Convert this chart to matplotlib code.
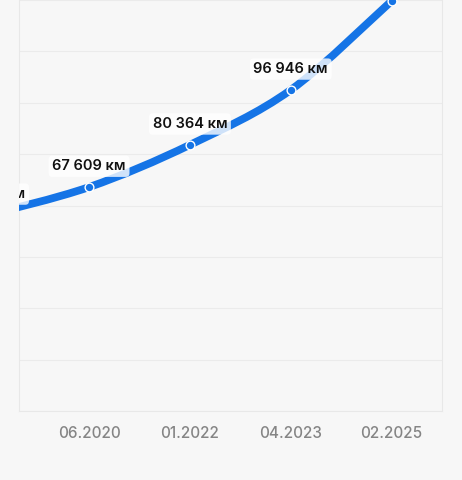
import matplotlib
matplotlib.use("Agg")
import matplotlib.pyplot as plt
from matplotlib.path import Path
from matplotlib.patches import PathPatch

# Odometer readings (km); the first point sits just off the left edge,
# the last one at the top edge of the visible area
dates = ["", "06.2020", "01.2022", "04.2023", "02.2025"]
positions = [-1, 0, 1, 2, 3]
mileage = [59200, 67609, 80364, 96946, 123800]
labels = ["59 200 км", "67 609 км", "80 364 км", "96 946 км", "123 800 км"]

y_max = 124100
blue = "#1574e6"
bg = "#f7f7f7"

plt.rcParams["font.family"] = ["Inter", "DejaVu Sans"]

fig = plt.figure(figsize=(4.62, 4.80), dpi=100, facecolor=bg)
ax = fig.add_axes([19 / 462, 69 / 480, 423 / 462, 411 / 480])
ax.set_facecolor(bg)

# smooth curve through the points (Catmull-Rom as cubic Beziers)
pts = list(zip(positions, mileage))
verts = [pts[0]]
codes = [Path.MOVETO]
for i in range(len(pts) - 1):
    p0 = pts[i - 1] if i > 0 else pts[i]
    p1 = pts[i]
    p2 = pts[i + 1]
    p3 = pts[i + 2] if i + 2 < len(pts) else pts[i + 1]
    c1 = (p1[0] + (p2[0] - p0[0]) / 6, p1[1] + (p2[1] - p0[1]) / 6)
    c2 = (p2[0] - (p3[0] - p1[0]) / 6, p2[1] - (p3[1] - p1[1]) / 6)
    verts += [c1, c2, p2]
    codes += [Path.CURVE4] * 3
ax.add_patch(PathPatch(Path(verts, codes), facecolor="none", edgecolor=blue,
                       lw=5.6, capstyle="round", zorder=3))

ax.plot(positions, mileage, "o", ms=6.3, mfc=blue, mec="white", mew=1.0, zorder=4)

for x, y, lab in zip(positions, mileage, labels):
    ax.annotate(lab, (x, y), xytext=(0, 15), textcoords="offset points",
                ha="center", va="center", fontsize=10.5, fontweight="semibold",
                color="#111111", annotation_clip=False, clip_on=True, zorder=5,
                bbox=dict(boxstyle="round,pad=0.25", fc="white", ec="none", alpha=0.8))

ax.set_xlim(-0.695, 3.5)
ax.set_ylim(0, y_max)
ax.set_xticks(positions[1:])
ax.set_xticklabels(dates[1:], fontsize=11, fontweight="medium", color="#858585")
ax.set_yticks([y_max * k / 8 for k in range(9)])
ax.set_yticklabels([])
ax.tick_params(length=0, pad=11)
ax.tick_params(axis="y", left=False)
ax.grid(axis="y", color="#ebebeb", lw=0.8)
ax.set_axisbelow(True)
for side in ["left", "right", "bottom"]:
    ax.spines[side].set_color("#e8e8e8")
    ax.spines[side].set_linewidth(0.8)
ax.spines["top"].set_visible(False)

fig.savefig("out.png", dpi=100, facecolor=bg)
